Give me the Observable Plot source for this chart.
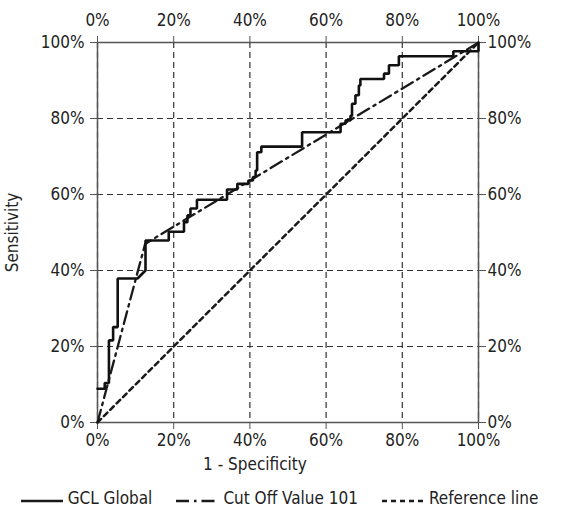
<!DOCTYPE html>
<html>
<head>
<meta charset="utf-8">
<script src="https://cdn.jsdelivr.net/npm/d3@7"></script>
<script src="https://cdn.jsdelivr.net/npm/@observablehq/plot@0.6"></script>
<style>
  body { margin: 0; background: #fff; }
  #wrap { width: 569px; font-family: 'DejaVu Sans', sans-serif; font-stretch: condensed; color: #222; }
  #legend { display: flex; justify-content: center; align-items: center; height: 36px; font-size: 17px; font-stretch: condensed; padding-right: 10px; }
  .item { display: flex; align-items: center; margin: 0 12px; }
  .item svg { margin-right: 5px; }
</style>
</head>
<body>
<div id="wrap"></div>
<script>
// 1 - Specificity (%) and Sensitivity (%) for the GCL Global ROC curve
const gclX = [0, 1.9, 1.9, 3.0, 3.0, 4.1, 4.1, 5.3, 5.3, 10.5, 12.6, 12.6, 18.7, 18.7, 22.7, 22.7, 23.6, 23.6, 24.4, 24.4, 26.1, 26.1, 34.0, 34.0, 36.7, 36.7, 39.6, 39.6, 40.8, 40.8, 41.5, 41.5, 41.9, 41.9, 43.0, 43.0, 53.7, 53.7, 63.8, 63.8, 65.1, 65.1, 66.4, 66.4, 66.8, 66.8, 67.7, 67.7, 68.6, 68.6, 69.0, 69.0, 75.2, 75.2, 76.5, 76.5, 79.1, 79.1, 93.4, 93.4, 100, 100];
const gclY = [8.9, 8.9, 10.4, 10.4, 21.6, 21.6, 25.1, 25.1, 37.9, 37.9, 40.0, 47.9, 47.9, 50.2, 50.2, 52.7, 52.7, 54.5, 54.5, 56.3, 56.3, 58.6, 58.6, 61.3, 61.3, 62.8, 62.8, 63.7, 63.7, 64.6, 64.6, 66.3, 66.3, 71.1, 71.1, 72.6, 72.6, 76.4, 76.4, 78.6, 78.6, 79.5, 79.5, 80.7, 80.7, 83.9, 83.9, 86.1, 86.1, 88.7, 88.7, 90.4, 90.4, 91.8, 91.8, 94.0, 94.0, 96.4, 96.4, 97.7, 97.7, 100];
// Cut Off Value 101
const cutX = [0, 12.5, 100];
const cutY = [0, 47.0, 100];
// Reference line
const refX = [0, 100];
const refY = [0, 100];
const tickValues = [0, 20, 40, 60, 80, 100];
const seriesNames = ["GCL Global", "Cut Off Value 101", "Reference line"];
const xTitle = "1 - Specificity";
const yTitle = "Sensitivity";

const toRows = (xs, ys) => xs.map((x, i) => ({x, y: ys[i]}));
const fmt = d => d + "%";

const chart = Plot.plot({
  width: 569,
  height: 480,
  marginLeft: 97,
  marginRight: 91,
  marginTop: 42,
  marginBottom: 58,
  x: {domain: [0, 100]},
  y: {domain: [0, 100]},
  style: "font-family: 'DejaVu Sans', sans-serif; font-stretch: condensed; font-size: 17px; color: #222; background: #fff; overflow: visible;",
  marks: [
    Plot.gridX(tickValues, {stroke: "#333", strokeOpacity: 1, strokeWidth: 1.2, strokeDasharray: "6,4"}),
    Plot.gridY(tickValues, {stroke: "#333", strokeOpacity: 1, strokeWidth: 1.2, strokeDasharray: "6,4"}),
    Plot.frame({stroke: "#555", strokeWidth: 1.5}),
    Plot.axisX({anchor: "bottom", ticks: tickValues, tickFormat: fmt, tickSize: 7, tickPadding: 4, stroke: "#555", label: null}),
    Plot.axisX({anchor: "top", ticks: tickValues, tickFormat: fmt, tickSize: 7, tickPadding: 10, stroke: "#555", label: null}),
    Plot.axisY({anchor: "left", ticks: tickValues, tickFormat: fmt, tickSize: 7, tickPadding: 6, stroke: "#555", label: yTitle, labelAnchor: "center", labelArrow: "none", labelOffset: 92}),
    Plot.axisY({anchor: "right", ticks: tickValues, tickFormat: fmt, tickSize: 7, tickPadding: 2, stroke: "#555", label: null}),
    Plot.text([xTitle], {frameAnchor: "bottom", dx: -33, dy: 47, fill: "#222"}),
    Plot.line(toRows(refX, refY), {x: "x", y: "y", stroke: "#1a1a1a", strokeWidth: 2.5, strokeDasharray: "5,4"}),
    Plot.line(toRows(cutX, cutY), {x: "x", y: "y", stroke: "#1a1a1a", strokeWidth: 2.3, strokeDasharray: "13,5,2.5,5"}),
    Plot.line(toRows(gclX, gclY), {x: "x", y: "y", stroke: "#111", strokeWidth: 2.6, strokeLinejoin: "miter"})
  ]
});

const wrap = document.getElementById("wrap");
wrap.appendChild(chart);

const legend = document.createElement("div");
legend.id = "legend";
const dashes = [null, "13,5,2.5,5", "5,4"];
seriesNames.forEach((name, i) => {
  const item = document.createElement("div");
  item.className = "item";
  const dash = dashes[i] ? ` stroke-dasharray="${dashes[i]}"` : "";
  item.innerHTML = `<svg width="42" height="10"><line x1="0" y1="8" x2="42" y2="8" stroke="#1a1a1a" stroke-width="2.5"${dash}/></svg><span>${name}</span>`;
  legend.appendChild(item);
});
wrap.appendChild(legend);
</script>
</body>
</html>
